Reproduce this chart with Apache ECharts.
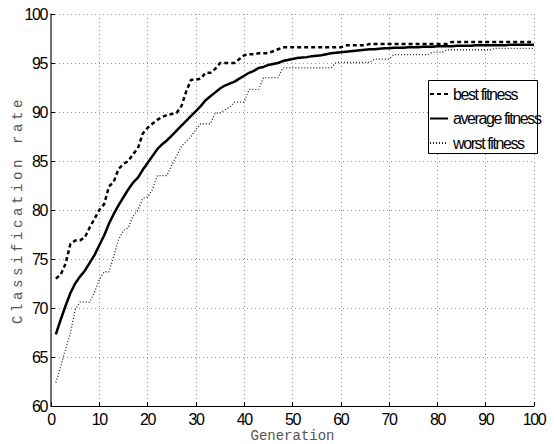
<!DOCTYPE html>
<html>
<head>
<meta charset="utf-8">
<script src="https://cdn.jsdelivr.net/npm/echarts@6/dist/echarts.min.js"></script>
<style>
html,body{margin:0;padding:0;background:#fff;}
#chart{width:554px;height:444px;}
#chart svg text{letter-spacing:-1.4px;}
</style>
</head>
<body>
<div id="chart"></div>
<script>
// Tick labels
const xTicks = [0,10,20,30,40,50,60,70,80,90,100];
const yTicks = [60,65,70,75,80,85,90,95,100];
const seriesNames = ['best fitness','average fitness','worst fitness'];
const xName = 'Generation';
const yName = 'Classification rate';

// Values per generation (1..100)
const bestFitness = [
73.0,73.4,74.5,76.5,76.9,76.9,77.2,78.2,79.1,80.0,
80.6,82.4,82.9,84.2,84.7,85.0,85.7,86.3,87.8,88.4,
88.8,89.2,89.5,89.7,89.8,89.9,90.6,92.1,93.3,93.3,
93.4,94.0,94.0,94.4,95.0,95.0,95.0,95.0,95.4,95.8,
95.9,95.9,96.0,96.0,96.0,96.2,96.4,96.6,96.6,96.6,
96.6,96.6,96.6,96.6,96.6,96.6,96.6,96.6,96.6,96.6,
96.8,96.8,96.8,96.8,96.8,96.95,96.95,96.95,96.95,96.95,
96.95,96.95,96.95,96.95,96.95,96.95,96.95,96.95,96.95,96.95,
96.95,96.95,97.15,97.15,97.15,97.15,97.15,97.15,97.15,97.15,
97.15,97.15,97.15,97.15,97.15,97.15,97.15,97.15,97.15,97.15
];
const averageFitness = [
67.3,68.8,70.2,71.5,72.5,73.2,73.8,74.6,75.4,76.4,
77.4,78.6,79.6,80.5,81.3,82.1,82.8,83.3,84.1,84.8,
85.5,86.2,86.7,87.1,87.6,88.1,88.6,89.1,89.6,90.1,
90.6,91.2,91.6,92.0,92.4,92.7,92.9,93.1,93.4,93.7,
94.0,94.2,94.5,94.6,94.8,94.9,95.0,95.2,95.3,95.4,
95.5,95.55,95.6,95.7,95.75,95.8,95.9,96.0,96.05,96.1,
96.15,96.2,96.25,96.3,96.35,96.4,96.4,96.45,96.5,96.5,
96.55,96.55,96.55,96.6,96.6,96.6,96.65,96.65,96.65,96.7,
96.7,96.7,96.7,96.75,96.75,96.75,96.75,96.8,96.8,96.8,
96.8,96.8,96.8,96.8,96.85,96.85,96.85,96.85,96.85,96.85
];
const worstFitness = [
62.4,64.0,65.8,67.4,69.8,70.6,70.6,70.6,71.6,72.9,
73.7,73.7,75.3,77.0,77.9,78.2,79.4,80.0,81.2,81.3,
82.1,83.5,83.5,83.5,84.6,85.5,86.5,87.0,87.5,88.2,
88.8,88.8,88.8,89.9,89.9,90.2,90.5,91.0,91.0,91.0,
92.3,92.3,92.3,93.5,93.5,93.5,93.5,94.5,94.5,94.5,
94.5,94.5,94.5,94.5,94.5,94.5,94.5,94.5,95.05,95.05,
95.05,95.05,95.05,95.05,95.05,95.05,95.4,95.4,95.4,95.4,
95.85,95.85,95.85,95.85,95.85,95.85,95.85,95.85,96.1,96.1,
96.1,96.35,96.35,96.35,96.35,96.35,96.35,96.35,96.35,96.35,
96.35,96.5,96.5,96.5,96.5,96.5,96.5,96.5,96.5,96.5
];

const toPairs = arr => arr.map((v, i) => [i + 1, v]);
const tickFont = "'Liberation Sans',Arial,sans-serif";
const monoFont = "'Liberation Mono','DejaVu Sans Mono',monospace";

const chart = echarts.init(document.getElementById('chart'), null, {renderer: 'svg'});
chart.setOption({
  animation: false,
  backgroundColor: '#fff',
  grid: {left: 51, right: 20, top: 14, bottom: 38, containLabel: false, outerBoundsMode: 'none'},
  graphic: [{
    type: 'rect', left: 428, top: 80, z: 3,
    shape: {width: 109, height: 73},
    style: {fill: '#fff', stroke: '#000', lineWidth: 1}
  }],
  legend: {
    orient: 'vertical',
    left: 429, top: 86,
    itemWidth: 18, itemHeight: 14, itemGap: 8.5,
    padding: 0,
    itemStyle: {opacity: 0},
    textStyle: {fontFamily: tickFont, fontSize: 16, color: '#000'},
    data: seriesNames
  },
  xAxis: {
    type: 'value', min: xTicks[0], max: xTicks[xTicks.length-1], interval: 10,
    name: xName, nameLocation: 'middle', nameGap: 23, nameMoveOverlap: false,
    nameTextStyle: {fontFamily: monoFont, fontSize: 14, color: '#555'},
    axisLine: {lineStyle: {color: '#000', width: 1}},
    axisTick: {inside: true, length: 4, lineStyle: {color: '#000'}},
    axisLabel: {fontFamily: tickFont, fontSize: 16, color: '#000', margin: 5},
    splitLine: {show: true, lineStyle: {color: '#999', type: [1, 3], width: 1}}
  },
  yAxis: {
    type: 'value', min: yTicks[0], max: yTicks[yTicks.length-1], interval: 5,
    name: yName, nameLocation: 'middle', nameGap: 26, nameMoveOverlap: false,
    nameTextStyle: {fontFamily: monoFont, fontSize: 14, color: '#555'},
    axisLine: {show: true, lineStyle: {color: '#444', width: 1.5}},
    axisTick: {show: true, inside: true, length: 4, lineStyle: {color: '#000'}},
    axisLabel: {fontFamily: tickFont, fontSize: 16, color: '#000', margin: 4},
    splitLine: {show: true, lineStyle: {color: '#999', type: [1, 3], width: 1}}
  },
  series: [
    {name: seriesNames[0], type: 'line', symbol: 'none', data: toPairs(bestFitness),
     lineStyle: {color: '#000', width: 2.5, type: [4, 3]}, itemStyle: {color: '#000'}},
    {name: seriesNames[1], type: 'line', symbol: 'none', data: toPairs(averageFitness),
     lineStyle: {color: '#000', width: 2.5, type: 'solid'}, itemStyle: {color: '#000'}},
    {name: seriesNames[2], type: 'line', symbol: 'none', data: toPairs(worstFitness),
     lineStyle: {color: '#222', width: 1.3, type: [1, 2]}, itemStyle: {color: '#222'}}
  ]
});
// axis titles: monospace with wide spacing on the vertical one, as in the reference
document.querySelectorAll('#chart text').forEach(t => {
  if (t.textContent === yName) t.style.letterSpacing = '3.6px';
  if (t.textContent === xName) t.style.letterSpacing = '0px';
});
</script>
</body>
</html>
